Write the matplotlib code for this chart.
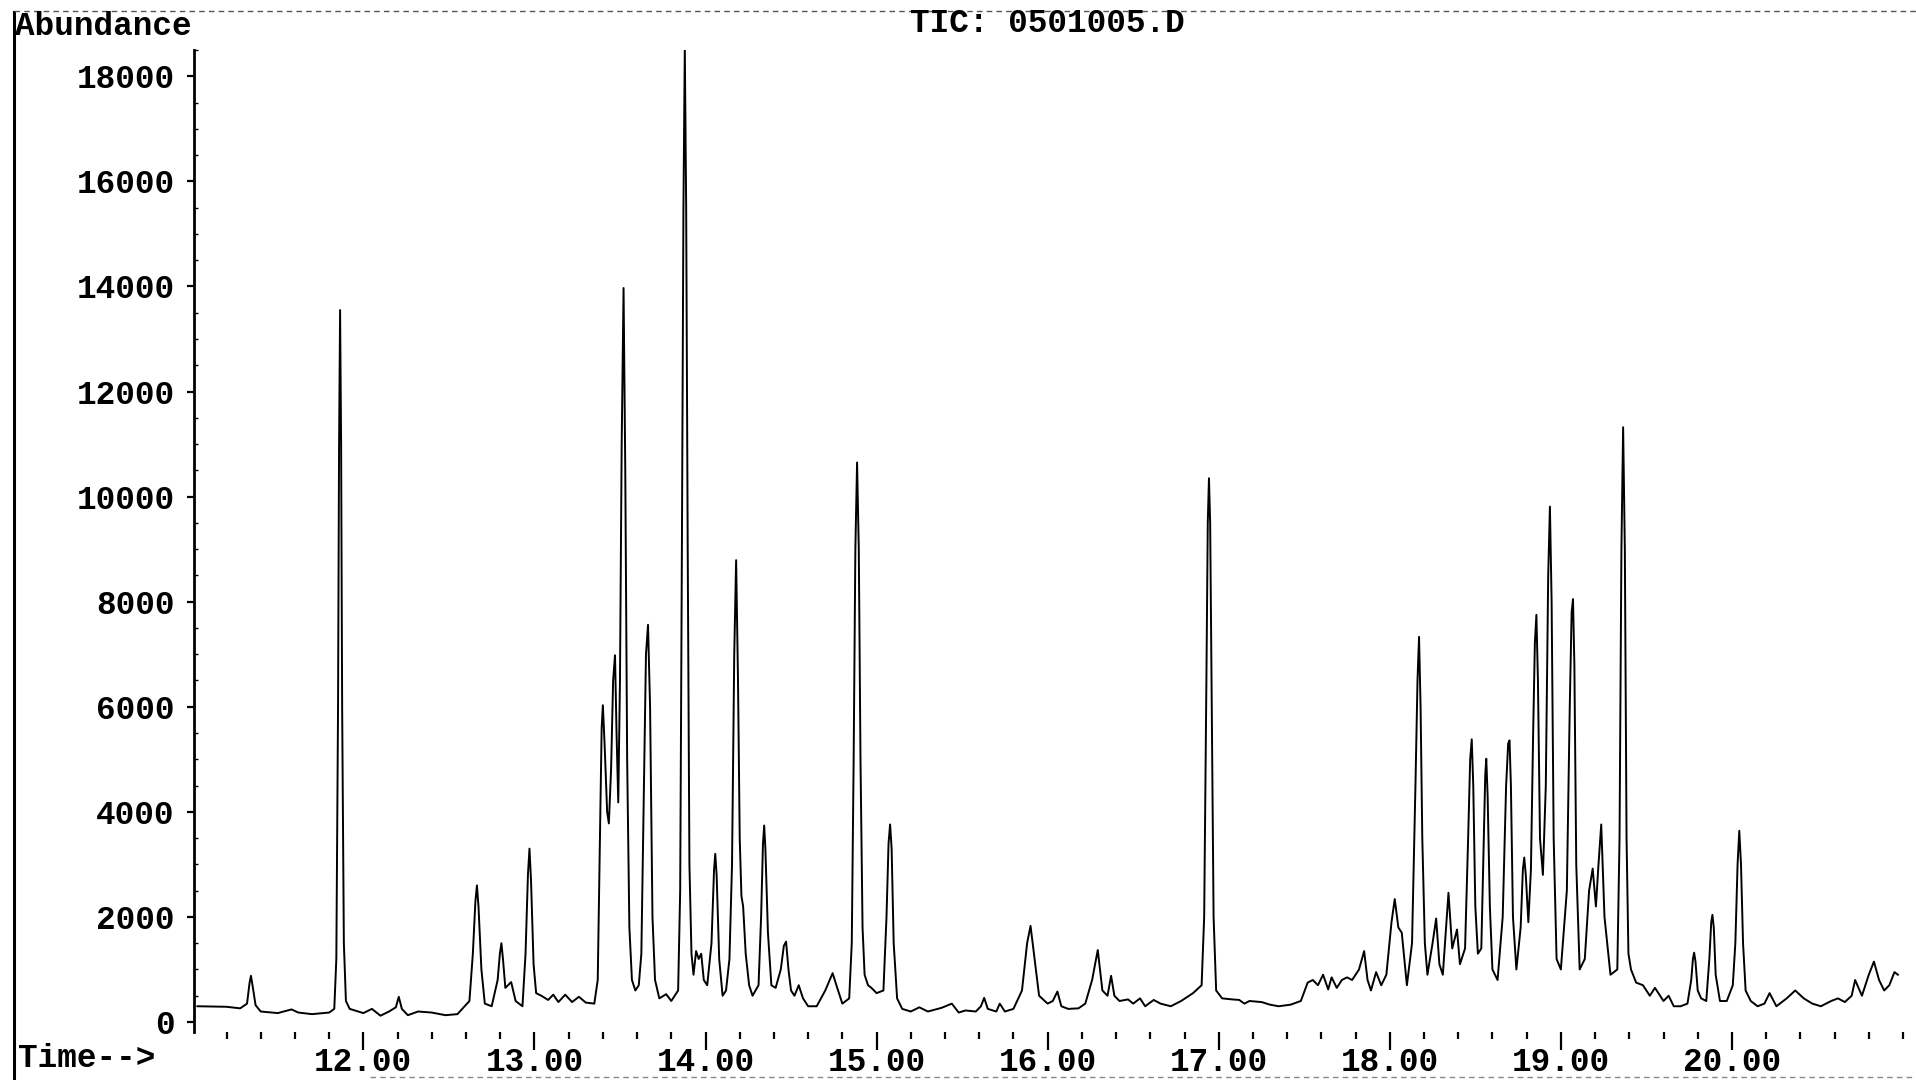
import matplotlib
matplotlib.use("Agg")
import matplotlib.pyplot as plt
from matplotlib.lines import Line2D
from matplotlib.ticker import MultipleLocator, FixedLocator, FuncFormatter

# ---------------- data ----------------
title_text = "TIC: 0501005.D"
y_label = "Abundance"
x_label = "Time-->"

rt_a = [11.03, 11.20, 11.28, 11.32, 11.335, 11.343, 11.352, 11.37, 11.40, 11.50, 11.58, 11.62,
        11.70, 11.80, 11.83, 11.842, 11.852, 11.858, 11.864, 11.870, 11.876, 11.886,
        11.898, 11.92, 12.00, 12.05, 12.10, 12.15, 12.19, 12.207, 12.225, 12.26,
        12.32, 12.40, 12.48, 12.55]
ab_a = [300, 290, 260, 350, 750, 880, 700, 320, 200, 170, 240, 180,
        150, 180, 250, 1200, 6000, 11000, 13550, 11000, 6000, 1500,
        400, 250, 170, 250, 120, 200, 280, 480, 250, 130,
        200, 180, 130, 150]

rt_b = [12.62, 12.64, 12.655, 12.664, 12.673, 12.69, 12.71, 12.75, 12.785, 12.798,
        12.807, 12.816, 12.83, 12.864, 12.89, 12.93, 12.948, 12.962, 12.971, 12.98,
        12.995, 13.01, 13.04, 13.08, 13.11, 13.14, 13.18, 13.22, 13.26, 13.30, 13.35]
ab_b = [400, 1300, 2300, 2600, 2200, 1000, 350, 300, 800, 1300,
        1500, 1200, 650, 760, 400, 300, 1300, 2800, 3300, 2700,
        1100, 550, 500, 420, 520, 380, 520, 380, 480, 370, 350]

rt_c = [13.37, 13.385, 13.393, 13.40, 13.41, 13.425, 13.435, 13.448, 13.46, 13.471,
        13.48, 13.49, 13.50, 13.51, 13.521, 13.531, 13.542, 13.555, 13.57, 13.59,
        13.61, 13.625, 13.64, 13.652, 13.664, 13.676, 13.69, 13.705, 13.73, 13.77,
        13.80, 13.84]
ab_c = [800, 4000, 5600, 6030, 5300, 4000, 3780, 4800, 6500, 6980,
        5500, 4180, 6500, 11000, 13970, 10500, 5000, 1800, 800, 600,
        700, 1300, 4500, 7000, 7560, 6000, 2000, 800, 450, 530,
        400, 600]

rt_d = [13.852, 13.862, 13.871, 13.879, 13.887, 13.896, 13.906, 13.918, 13.93, 13.945,
        13.96, 13.975, 13.99, 14.01, 14.035, 14.05, 14.057, 14.065, 14.08, 14.10,
        14.12, 14.14, 14.155, 14.168, 14.179, 14.19, 14.20, 14.21, 14.22, 14.235,
        14.255, 14.275, 14.31, 14.325, 14.336, 14.343, 14.35, 14.365, 14.385, 14.41,
        14.44, 14.458, 14.471, 14.485, 14.50, 14.52, 14.545, 14.57, 14.60, 14.65]
ab_d = [2500, 9000, 15500, 18560, 15500, 9000, 3000, 1300, 900, 1350,
        1200, 1300, 800, 700, 1500, 2900, 3200, 2800, 1200, 500,
        600, 1200, 3000, 7000, 8790, 6500, 3500, 2400, 2200, 1300,
        700, 500, 700, 2000, 3400, 3740, 3300, 1700, 700, 650,
        1000, 1450, 1530, 1000, 600, 500, 700, 450, 300, 300]

rt_e = [14.70, 14.743, 14.77, 14.80, 14.84, 14.855, 14.866, 14.876, 14.886, 14.896,
        14.906, 14.918, 14.93, 14.95, 14.97, 15.00, 15.04, 15.058, 15.07, 15.079,
        15.088, 15.10, 15.12, 15.15, 15.20]
ab_e = [600, 930, 650, 350, 450, 1500, 5000, 9000, 10650, 9000,
        5000, 1800, 900, 700, 650, 550, 600, 2000, 3400, 3760,
        3300, 1500, 450, 250, 200]

rt_f = [15.25, 15.30, 15.38, 15.44, 15.48, 15.52, 15.58, 15.61, 15.629, 15.65,
        15.70, 15.72, 15.75, 15.80, 15.85, 15.88, 15.90, 15.92, 15.95, 16.00,
        16.03, 16.057, 16.08, 16.12, 16.18, 16.22, 16.26, 16.293, 16.32, 16.35,
        16.371, 16.39, 16.42, 16.47, 16.50, 16.54, 16.57, 16.62, 16.66, 16.72,
        16.78, 16.85, 16.90, 16.915, 16.928, 16.936, 16.943, 16.95, 16.958, 16.97,
        16.985, 17.02]
ab_f = [280, 200, 270, 350, 180, 220, 200, 300, 460, 250,
        200, 350, 200, 250, 600, 1500, 1830, 1300, 500, 350,
        400, 580, 300, 250, 260, 350, 800, 1370, 600, 500,
        880, 500, 400, 430, 350, 450, 300, 420, 350, 300,
        400, 550, 700, 2000, 6500, 9500, 10350, 9500, 6500, 2000,
        600, 450]

rt_g = [17.08, 17.12, 17.15, 17.18, 17.25, 17.30, 17.35, 17.42, 17.48, 17.52,
        17.55, 17.58, 17.61, 17.64, 17.66, 17.69, 17.72, 17.75, 17.78, 17.82,
        17.85, 17.87, 17.89, 17.92, 17.95, 17.98, 18.01, 18.029, 18.05, 18.07,
        18.10, 18.13, 18.15, 18.162, 18.171, 18.18, 18.19, 18.205, 18.22, 18.25,
        18.271, 18.29, 18.31, 18.343, 18.365, 18.393, 18.41]
ab_g = [430, 420, 350, 400, 380, 330, 300, 330, 400, 750,
        800, 700, 900, 620, 850, 650, 800, 850, 800, 1000,
        1350, 800, 600, 950, 700, 900, 1900, 2340, 1800, 1700,
        700, 1500, 4500, 6500, 7330, 6000, 3500, 1500, 900, 1500,
        1970, 1100, 900, 2460, 1400, 1760, 1100]

rt_h = [18.44, 18.458, 18.47, 18.479, 18.488, 18.50, 18.515, 18.535, 18.55, 18.558,
        18.564, 18.572, 18.585, 18.60, 18.63, 18.66, 18.68, 18.692, 18.70, 18.708,
        18.72, 18.74, 18.765, 18.778, 18.786, 18.795, 18.81, 18.825, 18.838, 18.848,
        18.857, 18.866, 18.878, 18.895, 18.912, 18.926, 18.936, 18.946, 18.958, 18.975,
        19.00, 19.035, 19.052, 19.063, 19.071, 19.079, 19.09, 19.11, 19.14, 19.165,
        19.186, 19.205, 19.22, 19.236, 19.255, 19.29, 19.33, 19.343, 19.354, 19.364,
        19.374, 19.384, 19.395, 19.41, 19.44, 19.48, 19.52]
ab_h = [1400, 3500, 5000, 5380, 4500, 2200, 1300, 1400, 3500, 4700,
        5010, 4300, 2200, 1000, 800, 2000, 4500, 5300, 5360, 4500,
        2000, 1000, 1800, 2900, 3130, 2800, 1900, 2900, 5500, 7200,
        7750, 6500, 3500, 2800, 4500, 8500, 9810, 8000, 3500, 1200,
        1000, 2500, 6000, 7800, 8050, 6800, 3000, 1000, 1200, 2500,
        2920, 2200, 3000, 3760, 2000, 900, 1000, 3500, 9000, 11320,
        9000, 3500, 1300, 1000, 750, 700, 500]

rt_i = [19.55, 19.60, 19.63, 19.66, 19.70, 19.74, 19.762, 19.772, 19.779, 19.787,
        19.80, 19.82, 19.85, 19.868, 19.879, 19.886, 19.894, 19.905, 19.93, 19.97,
        20.005, 20.02, 20.033, 20.043, 20.053, 20.065, 20.08, 20.11, 20.15, 20.19,
        20.22, 20.26, 20.32, 20.37, 20.42, 20.47, 20.52, 20.58, 20.62, 20.66,
        20.70, 20.72, 20.76, 20.80, 20.83, 20.86, 20.89, 20.92, 20.95, 20.97]
ab_i = [650, 400, 500, 300, 300, 350, 800, 1200, 1320, 1150,
        600, 450, 400, 1200, 1900, 2040, 1800, 900, 400, 400,
        700, 1500, 3000, 3640, 3000, 1500, 600, 400, 300, 350,
        550, 300, 450, 600, 450, 350, 300, 400, 450, 380,
        500, 800, 500, 900, 1150, 800, 600, 700, 950, 900]

x_major_ticks = [12.0, 13.0, 14.0, 15.0, 16.0, 17.0, 18.0, 19.0, 20.0]
y_major_ticks = [0, 2000, 4000, 6000, 8000, 10000, 12000, 14000, 16000, 18000]

rt = rt_a + rt_b + rt_c + rt_d + rt_e + rt_f + rt_g + rt_h + rt_i
abundance = ab_a + ab_b + ab_c + ab_d + ab_e + ab_f + ab_g + ab_h + ab_i

# ---------------- figure ----------------
W, H = 1916, 1080
fig = plt.figure(figsize=(W / 100, H / 100), dpi=100)
fig.patch.set_facecolor("white")

FONT = "Liberation Mono"
FS = 23.5
ax = fig.add_axes([194 / W, 1 - 1032 / H, (1903 - 194) / W, (1032 - 50) / H])
ax.plot(rt, abundance, color="black", lw=1.4, solid_joinstyle="round")
ax.set_xlim(11.01, 21.0)
ax.set_ylim(-190, 18500)

for s in ["top", "right", "bottom"]:
    ax.spines[s].set_visible(False)
ax.spines["left"].set_linewidth(2.0)

ax.xaxis.set_major_locator(FixedLocator(x_major_ticks))
ax.xaxis.set_minor_locator(MultipleLocator(0.2))
ax.xaxis.set_major_formatter(FuncFormatter(lambda v, p: f"{v:.2f}"))
ax.tick_params(axis="x", which="major", direction="out", length=13, width=1.6,
               pad=-2, labelsize=FS)
ax.tick_params(axis="x", which="minor", direction="out", length=5, width=1.6)

ax.yaxis.set_major_locator(FixedLocator(y_major_ticks))
ax.yaxis.set_minor_locator(MultipleLocator(500))
ax.tick_params(axis="y", which="major", direction="out", length=5, width=1.6,
               pad=9, labelsize=FS)
ax.tick_params(axis="y", which="minor", direction="in", length=3, width=1.0)

for lab in ax.get_xticklabels() + ax.get_yticklabels():
    lab.set_fontfamily(FONT)
    lab.set_fontweight("bold")

fig.text(15 / W, 1 - 35 / H, y_label, fontfamily=FONT, fontweight="bold",
         fontsize=FS, ha="left", va="baseline")
fig.text(1047 / W, 1 - 32 / H, title_text, fontfamily=FONT, fontweight="bold",
         fontsize=FS, ha="center", va="baseline")
fig.text(18 / W, 1 - 1067 / H, x_label, fontfamily=FONT, fontweight="bold",
         fontsize=FS, ha="left", va="baseline")

# page frame (left rule and dashed top rule of the printout)
fig.add_artist(Line2D([14 / W, 14 / W], [0, 1 - 12 / H], color="black", lw=2.2,
                      transform=fig.transFigure))
fig.add_artist(Line2D([14 / W, 1], [1 - 11 / H, 1 - 11 / H], color="#555555", lw=1.0,
                      ls=(0, (4, 3)), transform=fig.transFigure))
fig.add_artist(Line2D([370 / W, 1], [1 - 1077 / H, 1 - 1077 / H], color="#888888", lw=1.0,
                      ls=(0, (4, 3)), transform=fig.transFigure))

fig.savefig("out.png", dpi=100, facecolor="white")
